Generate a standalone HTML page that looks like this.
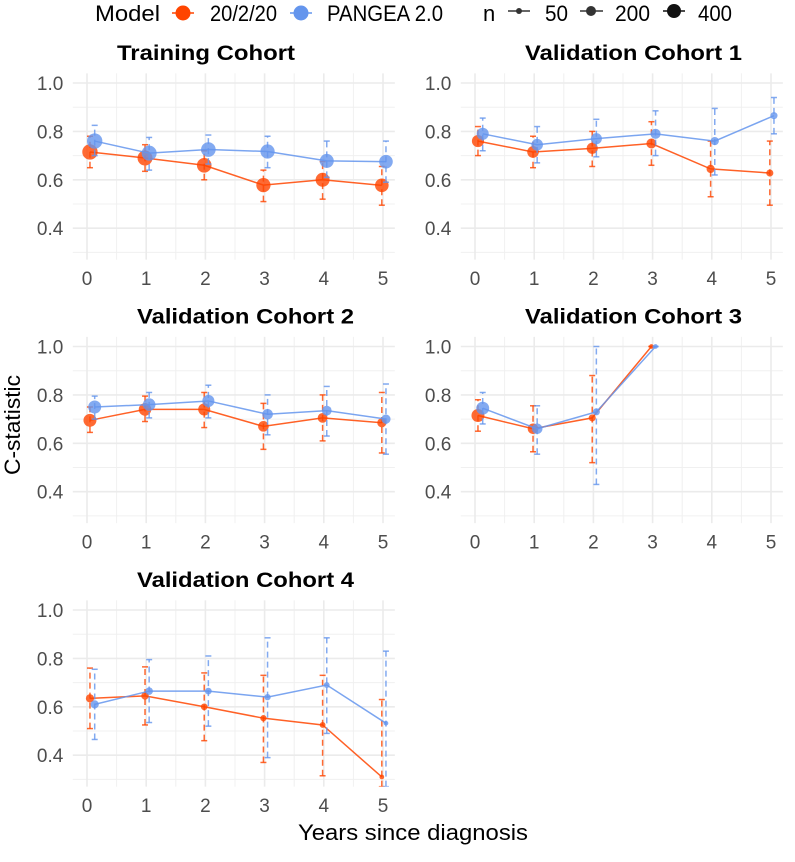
<!DOCTYPE html>
<html><head><meta charset="utf-8">
<style>
body{margin:0;background:#fff;font-family:"Liberation Sans",sans-serif;}
svg text{font-family:"Liberation Sans",sans-serif;}
</style></head>
<body>
<svg id="chart" width="795" height="857" viewBox="0 0 795 857" xmlns="http://www.w3.org/2000/svg">
<g id="legend">
  <text x="95" y="21" font-size="22" textLength="65" lengthAdjust="spacingAndGlyphs" fill="#000">Model</text>
  <g>
    <line x1="172" y1="13" x2="194" y2="13" stroke="#FF4500" stroke-width="1.5"/>
    <circle cx="183" cy="13" r="7.5" fill="#FF4500"/>
    <text x="210" y="21" font-size="22" textLength="67" lengthAdjust="spacingAndGlyphs">20/2/20</text>
  </g>
  <g>
    <line x1="290" y1="13" x2="312" y2="13" stroke="#6495ED" stroke-width="1.5"/>
    <circle cx="301" cy="13" r="7.5" fill="#6495ED"/>
    <text x="327" y="21" font-size="22" textLength="116" lengthAdjust="spacingAndGlyphs">PANGEA 2.0</text>
  </g>
  <text x="483" y="21" font-size="22">n</text>
  <g>
    <line x1="508" y1="11" x2="530" y2="11" stroke="#333" stroke-width="1.5"/><circle cx="519" cy="11" r="3" fill="#333"/>
    <text x="545" y="21" font-size="22" textLength="23" lengthAdjust="spacingAndGlyphs">50</text></g>
  <g>
    <line x1="580" y1="11" x2="603" y2="11" stroke="#333" stroke-width="1.5"/><circle cx="591" cy="11" r="5" fill="#333"/>
    <text x="615" y="21" font-size="22" textLength="35" lengthAdjust="spacingAndGlyphs">200</text></g>
  <g>
    <line x1="663" y1="11" x2="685" y2="11" stroke="#111" stroke-width="1.5"/><circle cx="674" cy="11" r="7" fill="#111"/>
    <text x="698" y="21" font-size="22" textLength="34" lengthAdjust="spacingAndGlyphs">400</text></g>
</g>
<text transform="translate(20,425) rotate(-90)" text-anchor="middle" font-size="22" textLength="100" lengthAdjust="spacingAndGlyphs">C-statistic</text>
<text x="413" y="840" text-anchor="middle" font-size="22" textLength="230" lengthAdjust="spacingAndGlyphs">Years since diagnosis</text>
<g id="panels"></g>
</svg>
<script>
const panelTitles = ["Training Cohort","Validation Cohort 1","Validation Cohort 2","Validation Cohort 3","Validation Cohort 4"];
const titleWidths = [178,217,217,217,217];
const titleLeft = [117,525,137,525,137];
const xTicks = [0,1,2,3,4,5];
const yTicks = [0.4,0.6,0.8,1.0];
const yTickLabels = ["0.4","0.6","0.8","1.0"];
const xOrange = [0.05,0.98,1.98,2.98,3.98,4.98];
const xBlue = [0.13,1.05,2.05,3.05,4.05,5.05];
const orangeMean = [[0.715,0.69,0.66,0.578,0.60,0.577],[0.76,0.715,0.73,0.75,0.645,0.628],[0.695,0.74,0.74,0.67,0.705,0.685],[0.715,0.66,0.705,1.0],[0.635,0.645,0.60,0.553,0.525,0.31]];
const orangeLo = [[0.65,0.635,0.60,0.51,0.52,0.495],[0.70,0.65,0.655,0.66,0.53,0.495],[0.645,0.69,0.665,0.575,0.61,0.56],[0.65,0.565,0.52,1.0],[0.51,0.525,0.46,0.37,0.315,0.27]];
const orangeHi = [[0.78,0.745,0.72,0.64,0.675,0.655],[0.82,0.78,0.80,0.84,0.76,0.76],[0.75,0.795,0.81,0.765,0.80,0.81],[0.78,0.755,0.88,1.0],[0.76,0.765,0.74,0.73,0.73,0.63]];
const orangeN = [[420,400,380,360,350,330],[260,240,220,180,120,90],[300,280,260,200,170,150],[300,200,90,40],[120,100,80,70,60,40]];
const blueMean = [[0.76,0.71,0.725,0.717,0.678,0.675],[0.79,0.745,0.77,0.79,0.76,0.865],[0.75,0.76,0.775,0.72,0.735,0.70],[0.745,0.66,0.73,1.0],[0.61,0.665,0.665,0.64,0.69,0.532]];
const blueLo = [[0.70,0.64,0.665,0.65,0.61,0.59],[0.72,0.67,0.695,0.70,0.62,0.79],[0.70,0.705,0.705,0.635,0.63,0.555],[0.68,0.555,0.43,1.0],[0.465,0.535,0.52,0.39,0.49,0.27]];
const blueHi = [[0.825,0.775,0.785,0.78,0.76,0.76],[0.855,0.82,0.85,0.885,0.895,0.94],[0.795,0.81,0.84,0.80,0.835,0.845],[0.81,0.755,1.0,1.0],[0.755,0.795,0.81,0.885,0.885,0.83]];
const blueN = [[420,400,380,360,350,330],[260,240,220,180,120,90],[300,280,260,200,170,150],[300,200,90,40],[120,100,80,70,60,40]];

const NS="http://www.w3.org/2000/svg";
const root=document.getElementById('panels');
function mk(tag,attrs,parent){const e=document.createElementNS(NS,tag);for(const k in attrs)e.setAttribute(k,attrs[k]);parent.appendChild(e);return e;}
const colOff=[0,388], rowOff=[0,263.5,527];
function rad(n){return Math.sqrt(n/400)*7.5;}
panelTitles.forEach((title,p)=>{
  const ox=colOff[p%2], oy=rowOff[Math.floor(p/2)];
  const xs=v=>87+ox+v*59.2;
  const ys=v=>83+oy+(1-v)*242;
  const g=mk('g',{},root);
  
  
  const left=xs(-0.24), right=xs(5.2), top=ys(1.04), bot=ys(0.27);
  for(let v=0.3;v<1.05;v+=0.2){mk('line',{x1:left,x2:right,y1:ys(v),y2:ys(v),stroke:'#f0f0f0','stroke-width':1},g);}
  for(let v=0.5;v<5;v+=1){mk('line',{x1:xs(v),x2:xs(v),y1:top,y2:bot,stroke:'#f0f0f0','stroke-width':1},g);}
  yTicks.forEach((v,i)=>{
    mk('line',{x1:left,x2:right,y1:ys(v),y2:ys(v),stroke:'#ebebeb','stroke-width':1.6},g);
    const t=mk('text',{x:xs(-0.4),y:ys(v)+7,'text-anchor':'end','font-size':19,fill:'#4d4d4d'},g);
    
    
    t.textContent=yTickLabels[i];
  });
  xTicks.forEach(v=>{
    mk('line',{x1:xs(v),x2:xs(v),y1:top,y2:bot,stroke:'#ebebeb','stroke-width':1.6},g);
    const t=mk('text',{x:xs(v),y:oy+285,'text-anchor':'middle','font-size':19,fill:'#4d4d4d'},g);
    
    
    t.textContent=v;
  });
  const tt=mk('text',{x:titleLeft[p],y:oy+60,'font-size':21,'font-weight':'bold',textLength:titleWidths[p],lengthAdjust:'spacingAndGlyphs'},g);
  
  
  tt.textContent=title;
  const clipId='clip'+p;
  const cp=mk('clipPath',{id:clipId},g);mk('rect',{x:left,y:top-8,width:right-left,height:bot-top+8},cp);
  const series=[{m:orangeMean[p],lo:orangeLo[p],hi:orangeHi[p],n:orangeN[p],x:xOrange,c:'#FF4500',name:'20-2-20'},
                {m:blueMean[p],lo:blueLo[p],hi:blueHi[p],n:blueN[p],x:xBlue,c:'#6495ED',name:'pangea'}];
  series.forEach(s=>{
    const sg=mk('g',{'clip-path':'url(#'+clipId+')'},g);
    
    
    s.m.forEach((v,i)=>{
      const x=xs(s.x[i]);
      const eb=mk('line',{x1:x,x2:x,y1:ys(s.lo[i]),y2:ys(s.hi[i]),stroke:s.c,'stroke-width':1.5,'stroke-dasharray':'6,4',opacity:0.8},sg);
      
      
      mk('line',{x1:x-3,x2:x+3,y1:ys(s.lo[i]),y2:ys(s.lo[i]),stroke:s.c,'stroke-width':1.5,opacity:0.8},sg);
      mk('line',{x1:x-3,x2:x+3,y1:ys(s.hi[i]),y2:ys(s.hi[i]),stroke:s.c,'stroke-width':1.5,opacity:0.8},sg);
    });
    const pts=s.m.map((v,i)=>xs(s.x[i])+','+ys(v)).join(' ');
    const pl=mk('polyline',{points:pts,fill:'none',stroke:s.c,'stroke-width':1.5,opacity:0.85},sg);
    
    
    s.m.forEach((v,i)=>{
      const c=mk('circle',{cx:xs(s.x[i]),cy:ys(v),r:rad(s.n[i]),fill:s.c,opacity:0.8},sg);
      
      
    });
  });
});
</script>
</body></html>
